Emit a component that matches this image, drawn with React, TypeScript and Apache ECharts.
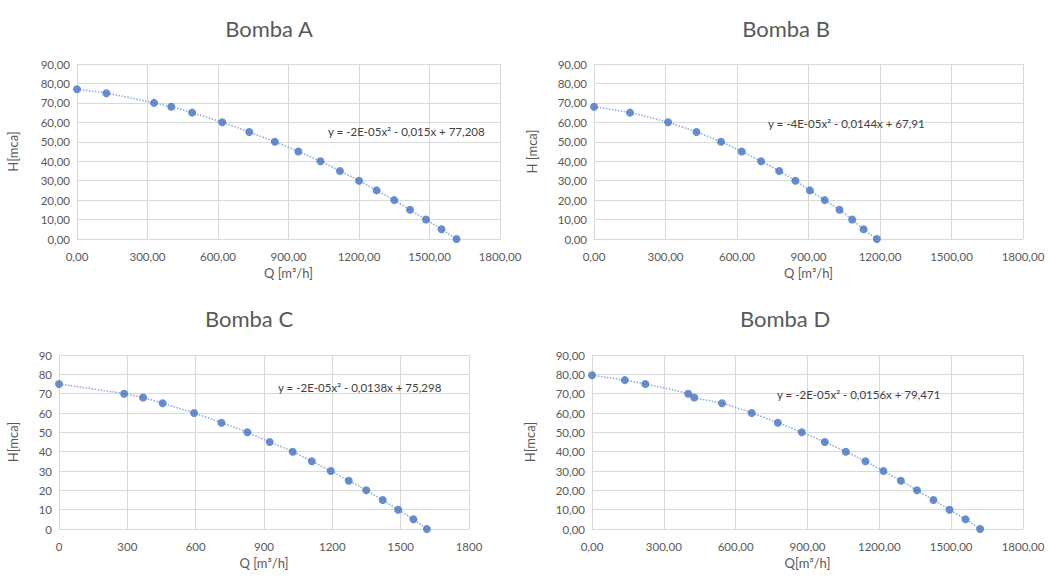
import React, { useEffect, useRef } from "react";
import * as echarts from "echarts";

// ---- Data ----
const titles = ["Bomba A", "Bomba B", "Bomba C", "Bomba D"];
const xNames = ["Q [m³/h]", "Q [m³/h]", "Q [m³/h]", "Q[m³/h]"];
const yNames = ["H[mca]", "H [mca]", "H[mca]", "H[mca]"];
const equations = [
  "y = -2E-05x² - 0,015x + 77,208",
  "y = -4E-05x² - 0,0144x + 67,91",
  "y = -2E-05x² - 0,0138x + 75,298",
  "y = -2E-05x² - 0,0156x + 79,471",
];

const qA = [0, 125, 328, 401, 490, 618, 733, 842, 942, 1036, 1119, 1200, 1275, 1350, 1417, 1485, 1551, 1615];
const hA = [77, 75, 70, 68, 65, 60, 55, 50, 45, 40, 35, 30, 25, 20, 15, 10, 5, 0];

const qB = [0, 151, 311, 430, 533, 620, 701, 777, 845, 906, 968, 1030, 1083, 1131, 1187];
const hB = [68, 65, 60, 55, 50, 45, 40, 35, 30, 25, 20, 15, 10, 5, 0];

const qC = [0, 286, 369, 455, 593, 713, 827, 925, 1026, 1110, 1193, 1272, 1349, 1421, 1489, 1556, 1615];
const hC = [75, 70, 68, 65, 60, 55, 50, 45, 40, 35, 30, 25, 20, 15, 10, 5, 0];

const qD = [0, 137, 223, 402, 427, 543, 667, 776, 876, 972, 1060, 1142, 1217, 1290, 1357, 1426, 1493, 1560, 1621];
const hD = [79.5, 77, 75, 70, 68, 65, 60, 55, 50, 45, 40, 35, 30, 25, 20, 15, 10, 5, 0];

const qSeries = [qA, qB, qC, qD];
const hSeries = [hA, hB, hC, hD];
const decimalLabels = [true, true, false, true];

const xMin = 0, xMax = 1800, xStep = 300;
const yMin = 0, yMax = 90, yStep = 10;

// ---- Layout ----
const grids = [
  { left: 77, top: 64, width: 423, height: 175 },
  { left: 594, top: 64, width: 429, height: 175 },
  { left: 59, top: 355, width: 410, height: 174 },
  { left: 592, top: 355, width: 431, height: 174 },
];
const yNameGaps = [58, 56, 40, 56];
const titlePos = [
  [269, 28],
  [786, 28],
  [249, 318],
  [785, 318],
];
const eqPos = [
  [328, 131],
  [768, 123],
  [278, 387],
  [777, 394],
];

const FONT = "Lato, 'Open Sans', sans-serif";
const TXT = "#595959";
const GRIDC = "#d9d9d9";
const BLUE = "#4472C4";

const fmt = (dec: boolean) => (v: number) =>
  dec ? v.toFixed(2).replace(".", ",") : String(v);

export default function App() {
  const ref = useRef<HTMLDivElement>(null);
  useEffect(() => {
    if (!ref.current) return;
    const chart = echarts.init(ref.current, undefined, { renderer: "svg" });

    const xAxis = grids.map((_, i) => ({
      type: "value",
      gridIndex: i,
      min: xMin,
      max: xMax,
      interval: xStep,
      name: xNames[i],
      nameLocation: "middle",
      nameGap: 27,
      nameTextStyle: { color: TXT, fontSize: 13, fontFamily: FONT },
      axisLine: { show: true, lineStyle: { color: GRIDC } },
      axisTick: { show: false },
      axisLabel: {
        color: TXT,
        fontSize: 11.5,
        fontFamily: FONT,
        margin: 11,
        formatter: fmt(decimalLabels[i]),
        showMaxLabel: true,
      },
      splitLine: { show: true, lineStyle: { color: GRIDC, width: 1 } },
    }));

    const yAxis = grids.map((_, i) => ({
      type: "value",
      gridIndex: i,
      min: yMin,
      max: yMax,
      interval: yStep,
      name: yNames[i],
      nameLocation: "middle",
      nameGap: yNameGaps[i],
      nameRotate: 90,
      nameTextStyle: { color: TXT, fontSize: 13, fontFamily: FONT },
      axisLine: { show: true, lineStyle: { color: GRIDC } },
      axisTick: { show: false },
      axisLabel: {
        color: TXT,
        fontSize: 11.5,
        fontFamily: FONT,
        margin: 7,
        formatter: fmt(decimalLabels[i]),
      },
      splitLine: { show: true, lineStyle: { color: GRIDC, width: 1 } },
    }));

    const series: any[] = [];
    qSeries.forEach((qs, i) => {
      const pts = qs.map((q, k) => [q, hSeries[i][k]]);
      series.push({
        type: "line",
        xAxisIndex: i,
        yAxisIndex: i,
        data: pts,
        smooth: 0.3,
        showSymbol: false,
        symbol: "none",
        lineStyle: { type: "dotted", width: 1.5, color: "#8aaae0" },
        z: 1,
        silent: true,
      });
      series.push({
        type: "scatter",
        xAxisIndex: i,
        yAxisIndex: i,
        data: pts,
        symbol: "circle",
        symbolSize: 8,
        itemStyle: { color: BLUE },
        z: 2,
      });
    });

    const graphic: any[] = [];
    titles.forEach((t, i) => {
      graphic.push({
        type: "text",
        x: titlePos[i][0],
        y: titlePos[i][1],
        style: {
          text: t,
          fill: TXT,
          font: `22px ${FONT}`,
          textAlign: "center",
          textVerticalAlign: "middle",
          align: "center",
          verticalAlign: "middle",
        },
      });
      graphic.push({
        type: "text",
        x: eqPos[i][0],
        y: eqPos[i][1],
        z: 10,
        style: {
          text: equations[i],
          fill: "#404040",
          font: `11.5px ${FONT}`,
          textAlign: "left",
          textVerticalAlign: "middle",
          align: "left",
          verticalAlign: "middle",
        },
      });
    });

    chart.setOption({
      animation: false,
      backgroundColor: "#ffffff",
      grid: grids.map((g) => ({ ...g, containLabel: false })),
      xAxis,
      yAxis,
      series,
      graphic,
    });

    return () => chart.dispose();
  }, []);

  return (
    <div
      ref={ref}
      style={{ position: "fixed", left: 0, top: 0, width: 1049, height: 579 }}
    />
  );
}
